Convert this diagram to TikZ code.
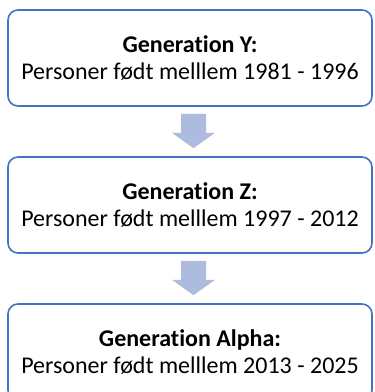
\documentclass[tikz,border=0pt]{standalone}
\usepackage{fontspec}
\setmainfont{Carlito}[Ligatures={NoCommon}]
\usetikzlibrary{calc}
\definecolor{boxblue}{RGB}{68,114,196}
\definecolor{arrowfill}{RGB}{172,187,222}
\tikzset{
  genbox/.style={draw=boxblue, line width=1.6pt, rounded corners=10pt, fill=white,
    minimum width=364pt, minimum height=96pt, inner sep=0pt, align=center,
    font=\fontsize{24}{27.5}\selectfont, text=black},
  blockarrow/.style={fill=arrowfill, draw=none}
}
\begin{document}
\begin{tikzpicture}[x=1pt,y=-1pt]
\clip (0,0) rectangle (375,392);
\useasboundingbox (0,0) rectangle (375,392);
\fill[white] (0,0) rectangle (375,392);
\node[genbox] (g1) at (190,58) {\textbf{Generation Y:}\\Personer født melllem 1981 - 1996};
\node[genbox] (g2) at (190,205) {\textbf{Generation Z:}\\Personer født melllem 1997 - 2012};
\node[genbox] (g3) at (190,352) {\textbf{Generation Alpha:}\\Personer født melllem 2013 - 2025};
\foreach \a/\b in {g1/g2, g2/g3}{
  \coordinate (top) at ($(\a.south)+(3.5,7)$);
  \coordinate (tip) at ($(\b.north)+(3.5,-8)$);
  \fill[blockarrow] ($(top)+(-12.5,0)$) -- ($(top)+(12.5,0)$) -- ($(top)+(12.5,19)$)
    -- ($(top)+(21.5,19)$) -- (tip) -- ($(top)+(-21.5,19)$) -- ($(top)+(-12.5,19)$) -- cycle;
}
\end{tikzpicture}
\end{document}
